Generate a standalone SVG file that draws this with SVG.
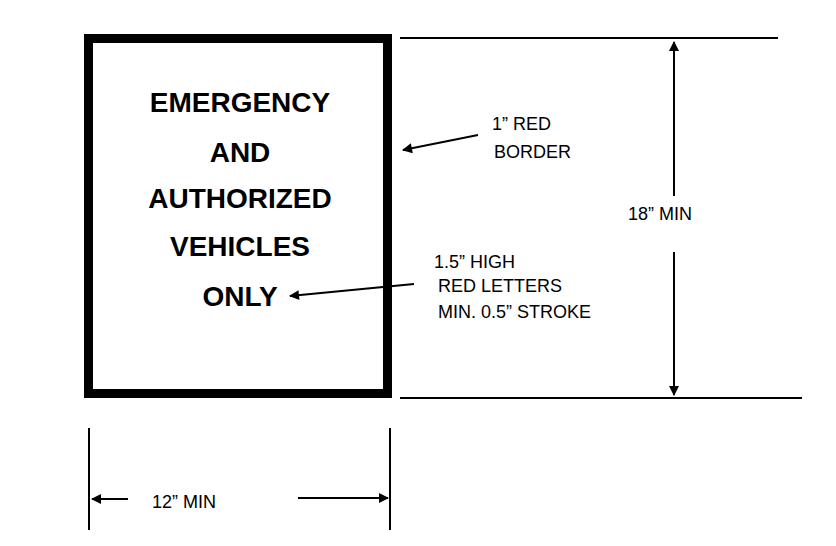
<svg xmlns="http://www.w3.org/2000/svg" width="836" height="546" viewBox="0 0 836 546">
<style>
.b{font-family:"Liberation Sans",Arial,sans-serif;font-weight:bold;font-size:28px;text-anchor:middle;fill:#000}
.t{font-family:"Liberation Sans",Arial,sans-serif;font-size:18px;fill:#000}
.l{stroke:#000;stroke-width:2;fill:none}
</style>
<defs><marker id="a" viewBox="0 0 10 10" refX="9" refY="5" markerWidth="7" markerHeight="6" orient="auto" markerUnits="userSpaceOnUse"><path d="M0,0L10,5L0,10z" fill="#000"/></marker>
<marker id="m" viewBox="0 0 10 10" refX="9" refY="5" markerWidth="14" markerHeight="10" orient="auto" markerUnits="userSpaceOnUse"><path d="M0,0L10,5L0,10z" fill="#000"/></marker></defs>
<rect width="836" height="546" fill="#fff"/>
<g id="sign">
<rect x="88.5" y="38.5" width="299" height="355" fill="#fff" stroke="#000" stroke-width="9"/>
<text class="b" x="240" y="112">EMERGENCY</text>
<text class="b" x="240" y="162">AND</text>
<text class="b" x="240" y="208">AUTHORIZED</text>
<text class="b" x="240" y="256">VEHICLES</text>
<text class="b" x="240" y="306">ONLY</text>
</g>
<g id="labels">
<text class="t" x="492" y="130">1” RED</text>
<text class="t" x="494" y="158">BORDER</text>
<text class="t" x="628" y="220">18” MIN</text>
<text class="t" x="434" y="268">1.5” HIGH</text>
<text class="t" x="438" y="292">RED LETTERS</text>
<text class="t" x="438" y="318">MIN. 0.5” STROKE</text>
<text class="t" x="152" y="508">12” MIN</text>
</g>
<g id="connectors">
<line class="l" x1="400" y1="38" x2="778" y2="38"/>
<line class="l" x1="400" y1="398" x2="802" y2="398"/>
<line class="l" x1="674" y1="196" x2="674" y2="42" marker-end="url(#m)"/>
<line class="l" x1="674" y1="252" x2="674" y2="395" marker-end="url(#m)"/>
<line class="l" x1="478" y1="135" x2="403" y2="150" marker-end="url(#m)"/>
<line class="l" x1="414" y1="284" x2="290" y2="296" marker-end="url(#m)"/>
<line class="l" x1="89" y1="428" x2="89" y2="530"/>
<line class="l" x1="390" y1="428" x2="390" y2="530"/>
<line class="l" x1="128" y1="499" x2="92" y2="499" marker-end="url(#m)"/>
<line class="l" x1="298" y1="498" x2="388" y2="498" marker-end="url(#m)"/>
</g>
</svg>
